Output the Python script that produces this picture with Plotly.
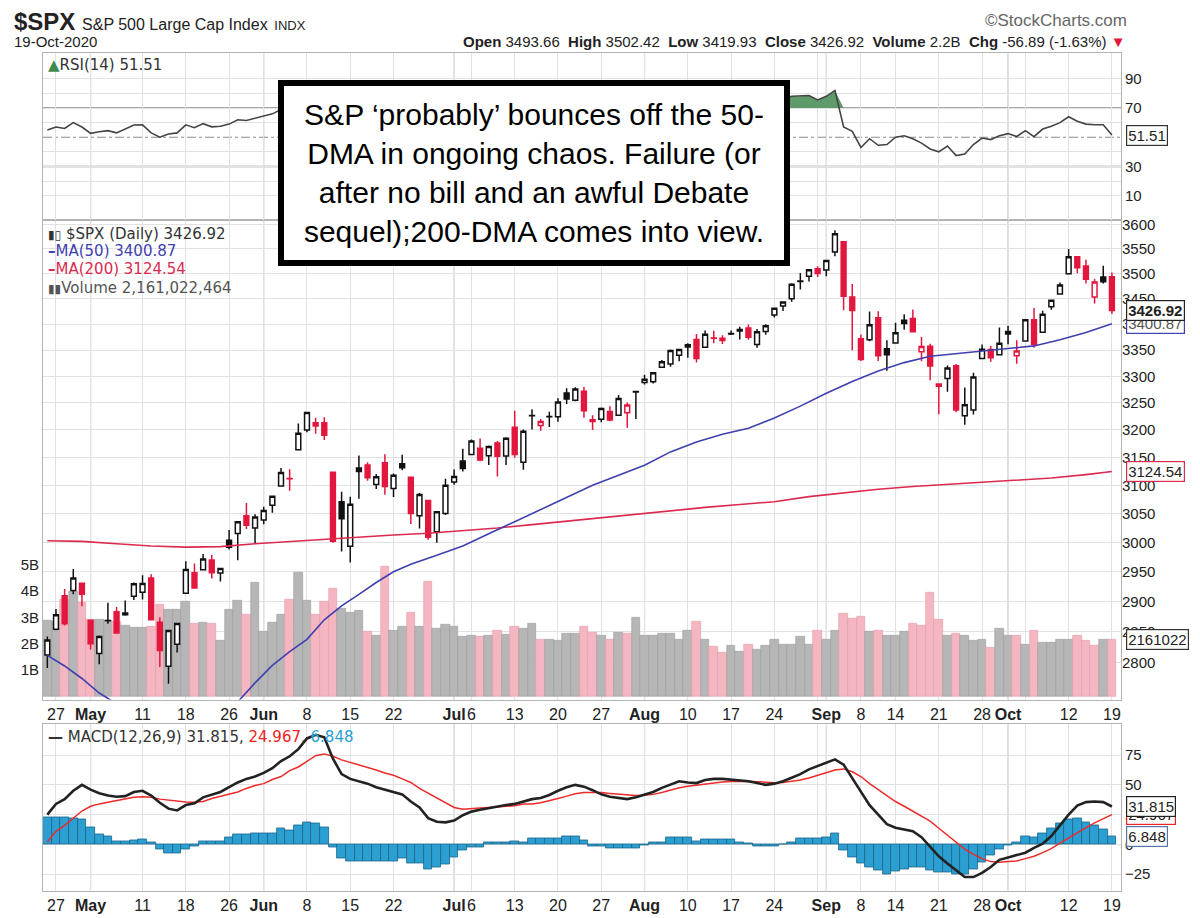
import math
import pandas as pd
import plotly.graph_objects as go

# trading days shown (Apr 24 - Oct 19 2020), market holidays removed
holidays = ["2020-05-25", "2020-07-03", "2020-09-07"]
dates = [d.strftime("%Y-%m-%d") for d in pd.bdate_range("2020-04-24", "2020-10-19")
         if d.strftime("%Y-%m-%d") not in holidays]

prev_close = 2797.80  # close of Apr 23, colours the first candle

opens = [2812.64, 2854.65, 2909.96, 2918.46, 2930.91, 2869.09,
         2815.01, 2868.88, 2883.14, 2878.26, 2908.83,
         2915.46, 2939.50, 2865.86, 2794.54, 2829.95,
         2913.86, 2948.59, 2953.63, 2969.95, 2948.05,
         3004.08, 3015.65, 3046.61, 3025.17,
         3038.78, 3064.78, 3098.90, 3111.56, 3163.84,
         3199.92, 3213.32, 3213.42, 3123.53, 3071.04,
         2993.76, 3131.00, 3136.13, 3101.64, 3140.29,
         3094.42, 3138.70, 3114.40, 3046.60, 3073.20,
         3018.59, 3050.20, 3105.92, 3143.64,
         3155.29, 3166.44, 3153.07, 3176.17, 3152.47,
         3205.08, 3141.11, 3225.98, 3208.36, 3224.21,
         3224.29, 3268.52, 3254.86, 3271.64, 3218.58,
         3219.84, 3234.27, 3227.22, 3231.76, 3270.45,
         3288.26, 3289.92, 3317.37, 3323.17, 3340.05,
         3356.04, 3370.34, 3355.46, 3372.95, 3368.66,
         3380.86, 3387.04, 3392.51, 3360.48, 3386.01,
         3418.09, 3435.95, 3449.97, 3485.14, 3494.69,
         3509.73, 3507.44, 3543.76, 3564.74, 3453.60,
         3371.88, 3369.82, 3412.56, 3352.70,
         3363.56, 3407.73, 3411.23, 3346.86, 3357.38,
         3285.57, 3295.75, 3320.11, 3226.14, 3236.66,
         3333.90, 3350.92, 3341.21, 3385.87, 3338.94,
         3367.27, 3408.74, 3384.56, 3434.28, 3459.67,
         3500.02, 3534.01, 3515.47, 3453.72, 3493.50,
         3493.66]
highs = [2842.71, 2887.72, 2921.15, 2954.86, 2930.91, 2869.09,
         2844.24, 2898.23, 2891.11, 2901.92, 2932.16,
         2944.25, 2945.82, 2874.14, 2852.80, 2865.01,
         2968.09, 2964.21, 2980.29, 2978.50, 2956.76,
         3021.72, 3036.25, 3068.67, 3049.17,
         3062.18, 3081.07, 3130.94, 3128.91, 3211.72,
         3233.13, 3222.71, 3223.27, 3123.53, 3088.42,
         3079.76, 3153.45, 3141.16, 3120.00, 3155.53,
         3120.92, 3154.90, 3115.01, 3086.25, 3073.73,
         3053.89, 3111.51, 3128.44, 3165.81,
         3182.59, 3184.15, 3171.80, 3179.78, 3186.82,
         3235.32, 3200.95, 3238.28, 3220.39, 3233.52,
         3258.61, 3277.29, 3279.32, 3279.99, 3227.26,
         3241.43, 3243.72, 3264.74, 3250.92, 3272.17,
         3302.73, 3306.84, 3330.77, 3351.03, 3352.54,
         3363.29, 3381.01, 3387.89, 3387.24, 3378.51,
         3387.59, 3395.06, 3399.54, 3390.80, 3399.96,
         3432.09, 3444.21, 3481.07, 3501.38, 3509.23,
         3514.77, 3528.03, 3588.11, 3564.85, 3479.15,
         3379.97, 3424.77, 3425.55, 3368.95,
         3402.93, 3419.48, 3428.92, 3375.17, 3362.27,
         3285.57, 3320.31, 3323.35, 3278.70, 3306.88,
         3360.74, 3357.92, 3393.56, 3397.18, 3369.10,
         3409.57, 3431.56, 3426.26, 3447.28, 3482.34,
         3549.85, 3534.01, 3527.94, 3489.08, 3515.76,
         3502.42]
lows = [2791.76, 2852.89, 2860.71, 2912.16, 2892.47, 2821.61,
        2797.85, 2863.55, 2847.65, 2876.48, 2902.88,
        2903.44, 2869.59, 2793.15, 2766.64, 2816.78,
        2913.86, 2922.35, 2953.63, 2938.57, 2933.59,
        2988.17, 2969.75, 3023.40, 2998.61,
        3031.54, 3051.64, 3098.90, 3090.41, 3163.84,
        3196.00, 3193.11, 3181.49, 2999.49, 2984.47,
        2965.66, 3076.06, 3108.03, 3093.51, 3083.11,
        3079.39, 3127.12, 3032.13, 3024.01, 3004.63,
        2999.74, 3047.83, 3101.17, 3124.52,
        3155.29, 3142.93, 3136.53, 3115.70, 3136.22,
        3149.43, 3127.66, 3200.76, 3198.59, 3205.65,
        3215.16, 3247.77, 3253.10, 3222.66, 3200.05,
        3214.25, 3216.17, 3227.22, 3204.13, 3220.26,
        3284.53, 3286.37, 3317.37, 3318.14, 3328.72,
        3335.44, 3326.44, 3355.46, 3363.35, 3361.64,
        3379.22, 3370.15, 3369.66, 3354.69, 3379.31,
        3413.13, 3425.84, 3444.15, 3468.35, 3484.32,
        3493.25, 3494.60, 3535.23, 3427.41, 3349.63,
        3329.27, 3366.84, 3329.25, 3310.47,
        3363.56, 3389.25, 3384.45, 3328.82, 3292.40,
        3229.10, 3270.95, 3232.57, 3209.45, 3228.44,
        3332.91, 3327.54, 3340.47, 3361.39, 3323.69,
        3367.27, 3354.54, 3384.56, 3428.15, 3458.07,
        3499.61, 3500.86, 3480.55, 3440.89, 3480.45,
        3419.93]
closes = [2836.74, 2878.48, 2863.39, 2939.51, 2912.43, 2830.71,
          2842.74, 2868.44, 2848.42, 2881.19, 2929.80,
          2930.19, 2870.12, 2820.00, 2852.50, 2863.70,
          2953.91, 2922.94, 2971.61, 2948.51, 2955.45,
          2991.77, 3036.13, 3029.73, 3044.31,
          3055.73, 3080.82, 3122.87, 3112.35, 3193.93,
          3232.39, 3207.18, 3190.14, 3002.10, 3041.31,
          3066.59, 3124.74, 3113.49, 3115.34, 3097.74,
          3117.86, 3131.29, 3050.33, 3083.76, 3009.05,
          3053.24, 3100.29, 3115.86, 3130.01,
          3179.72, 3145.32, 3169.94, 3152.05, 3185.04,
          3155.22, 3197.52, 3226.56, 3215.57, 3224.73,
          3251.84, 3257.30, 3276.02, 3235.66, 3215.63,
          3239.41, 3218.44, 3258.44, 3246.22, 3271.12,
          3294.61, 3306.51, 3327.77, 3349.16, 3351.28,
          3360.47, 3333.69, 3380.35, 3373.43, 3372.85,
          3381.99, 3389.78, 3374.85, 3385.51, 3397.16,
          3431.28, 3443.62, 3478.73, 3484.55, 3508.01,
          3500.31, 3526.65, 3580.84, 3455.06, 3426.96,
          3331.84, 3398.96, 3339.19, 3340.97,
          3383.54, 3401.20, 3385.49, 3357.01, 3319.47,
          3281.06, 3315.57, 3236.92, 3246.59, 3298.46,
          3351.60, 3335.47, 3363.00, 3380.80, 3348.42,
          3408.60, 3360.97, 3419.44, 3446.83, 3477.14,
          3534.22, 3511.93, 3488.67, 3483.34, 3483.81,
          3426.92]

# volume in billions
volume = [2.88, 2.85, 3.68, 3.97, 3.55, 2.90,
          2.90, 2.88, 2.85, 2.70, 2.60,
          2.60, 2.65, 3.50, 3.30, 3.30,
          3.59, 2.77, 2.80, 2.78, 2.11,
          3.28, 3.63, 3.12, 4.32,
          2.46, 2.80, 3.09, 3.68, 4.72,
          3.63, 3.12, 3.60, 4.09, 3.34,
          3.19, 3.24, 2.47, 2.32, 4.94,
          2.51, 2.66, 3.19, 2.66, 4.36,
          2.58, 2.71, 2.65, 2.27,
          2.31, 2.25, 2.31, 2.50, 2.36,
          2.65, 2.56, 2.77, 2.17, 2.17,
          2.11, 2.37, 2.37, 2.65, 2.40,
          2.31, 2.17, 2.43, 2.37, 2.99,
          2.31, 2.31, 2.37, 2.37, 2.17,
          2.50, 2.84, 2.17, 1.89, 1.64,
          1.92, 1.70, 1.98, 1.79, 1.92,
          2.17, 1.98, 1.98, 2.25, 1.98,
          2.50, 2.17, 2.50, 3.15, 2.96,
          3.03, 2.45, 2.50, 2.29,
          2.29, 2.45, 2.77, 2.70, 3.94,
          2.90, 2.31, 2.37, 2.29, 2.12,
          2.17, 1.84, 2.57, 2.31, 2.31,
          1.98, 2.50, 2.05, 2.05, 2.17,
          2.17, 2.31, 2.12, 1.92, 2.17,
          2.161]

rsi = [55, 57, 56, 60, 57, 52.7,
       53.8, 54.5, 53, 55.6, 58.4,
       58.5, 53, 50, 52.2, 53,
       58.5, 56.5, 59.3, 57.1, 57.5,
       59, 62, 61.5, 63,
       64, 66, 69, 68.5, 73,
       75, 72, 70, 52, 55,
       57, 60, 59, 59, 57,
       59, 60, 53, 56, 50,
       54, 58, 59, 60,
       63, 60, 61, 59, 62,
       58, 62, 64, 63, 63,
       66, 66, 68, 62, 60,
       62, 60, 64, 62, 65,
       67, 69, 71, 73, 73,
       74, 67, 71, 70, 70,
       71, 72, 68, 70, 72,
       75, 76, 78, 78, 78.5,
       75.5, 78, 82, 57, 54,
       43, 49, 44.5, 45,
       50, 51, 49, 46, 42,
       40, 44, 37.5, 38.5, 45,
       49.5, 48.4, 51, 52.5, 50.5,
       54.5, 50.4, 55.6, 57.5, 60,
       64, 61, 59, 58.5, 58.5,
       51.51]

macd = [25, 34, 38, 45, 50, 46, 43, 41, 40, 40.5,
        44, 45, 41, 35, 30, 28.5, 33, 34.5, 39.5, 42,
        44, 48, 52, 55, 57, 60, 64, 70, 74, 80,
        89, 92, 90, 72, 59, 55, 53, 51, 48, 46,
        44, 42, 36, 31, 22, 19, 18.5, 20, 24.5, 27.5,
        29, 30.5, 31.5, 33, 34, 36, 38, 39, 41.5, 45,
        48, 50, 48.5, 45.5, 42, 40, 39, 38, 39.5, 41.7,
        44, 47.5, 50, 53, 52, 51.5, 54, 55, 55, 54.5,
        54, 53, 51.5, 50, 51, 53, 56, 59, 63, 66,
        69, 71.4, 67, 56, 44, 33, 25, 17, 14, 12.5,
        11, 6, -2, -10, -16, -22, -27.5, -27.5, -24, -19,
        -13, -11, -9, -7, -3, 0.5, 7, 16, 25, 32.5,
        35.5, 36, 35.5, 31.815]
signal = [2, 11, 16, 22, 28, 32, 34, 35.3, 36.5, 38,
          39.5, 40, 39.5, 38, 37, 36, 35.5, 35.3, 36, 38.5,
          40.5, 42, 44, 47, 49.5, 51, 54.5, 57, 62, 65,
          70, 74.5, 76, 74, 71, 69, 67, 65, 62.5, 60,
          58, 55, 52, 47, 43, 38.5, 35, 31, 29.5, 29.7,
          30.5, 31, 31.5, 32, 32.5, 34, 34, 35, 36.5, 38.5,
          40.5, 42.5, 43.5, 43.8, 43.5, 42.8, 42, 41.2, 41, 41.2,
          42, 43.5, 45.5, 47.5, 48.8, 49.8, 50.8, 51.7, 52.4, 52.8,
          53, 53, 52.7, 52.2, 51.8, 52, 52.8, 54, 55.8, 58,
          60.2, 62.5, 63.4, 61, 57, 51, 46, 41, 36, 32,
          28, 24, 19.5, 13.5, 7.5, 1.5, -4, -8.5, -12, -14.5,
          -15, -14.5, -14, -12, -10, -7, -3.6, 1, 5.5, 10,
          14, 18, 21.5, 24.967]
hist = [23, 23, 22.5, 22, 21, 14.4, 8.3, 6.7, 2.8, 2.8,
        3, 4.2, 2, -4.4, -7.8, -7.8, -4.4, -1.7, 2.8, 2.8,
        2.8, 6.1, 8.3, 8.3, 9.4, 9.4, 9.4, 13, 11.7, 15.8,
        18.6, 17.2, 14.4, -2.2, -11.9, -13.9, -13.9, -13.9, -13.9, -13.9,
        -13.9, -12, -15.6, -15.6, -21, -19.4, -16.7, -10.6, -5, -2.2,
        -2.2, 1.4, 1.4, 1.4, 2.8, 1.4, 4.7, 4.7, 4.7, 4.7,
        6.9, 6.9, 3.3, -1.7, -1.7, -3.6, -3.6, -3.6, -3.6, -1,
        2, 2, 5.6, 5.6, 5.6, 2.8, 3.9, 3.9, 3.9, 3.9,
        2, 1.1, -1.7, -1.7, -1.7, 0.3, 2, 5.3, 5.3, 5.3,
        6, 9.4, -5, -11, -16, -19, -22, -25, -23, -21,
        -19, -19, -21.5, -23.5, -23.9, -25, -25, -21, -15, -9,
        -4, -1, 2, 6.7, 6.1, 8.9, 13, 17.8, 20.6, 21.4,
        18.6, 15.8, 12.2, 6.848]

# moving averages (index of trading day, value)
ma50_idx = [0, 2, 4, 6, 8, 10, 13, 16, 19, 22, 24, 26, 28, 30, 32, 34, 36, 38, 40, 42,
            45, 48, 51, 54, 57, 60, 63, 66, 69, 72, 75, 78, 81, 84, 87, 90, 93, 96, 99,
            102, 105, 108, 111, 114, 117, 120, 123]
ma50_val = [2812, 2795, 2775, 2752, 2735, 2718, 2703, 2698, 2710, 2738, 2768, 2796, 2818,
            2838, 2870, 2893, 2912, 2932, 2950, 2963, 2978, 2994, 3015, 3036, 3057, 3078,
            3100, 3118, 3136, 3160, 3178, 3192, 3203, 3222, 3244, 3268, 3290, 3310, 3326,
            3338, 3343, 3347, 3352, 3358, 3370, 3384, 3400.87]
ma200_idx = [0, 4, 8, 12, 16, 20, 24, 28, 32, 36, 40, 44, 48, 52, 56, 60, 64, 68, 72, 76,
             80, 84, 88, 92, 96, 100, 104, 108, 112, 116, 120, 123]
ma200_val = [3003, 3002, 2998, 2994, 2992, 2993, 2998, 3002, 3006, 3010, 3013, 3016, 3020,
             3025, 3031, 3037, 3044, 3050, 3056, 3061, 3066, 3071, 3080, 3087, 3093, 3098,
             3102, 3106, 3109, 3113, 3119, 3124.54]

tick_dates = ["2020-04-27", "2020-05-01", "2020-05-11", "2020-05-18", "2020-05-26",
              "2020-06-01", "2020-06-08", "2020-06-15", "2020-06-22", "2020-07-01",
              "2020-07-06", "2020-07-13", "2020-07-20", "2020-07-27", "2020-08-03",
              "2020-08-10", "2020-08-17", "2020-08-24", "2020-08-31", "2020-09-01",
              "2020-09-08", "2020-09-14", "2020-09-21", "2020-09-28", "2020-10-01",
              "2020-10-05", "2020-10-12", "2020-10-19"]
tick_labels = ["27", "<b>May</b>", "11", "18", "26", "<b>Jun</b>", "8", "15", "22",
               "<b>Jul</b>", "6", "13", "20", "27", "<b>Aug</b>", "10", "17", "24", "",
               "<b>Sep</b>", "8", "14", "21", "28", "<b>Oct</b>", "", "12", "19"]
month_starts = ["2020-05-01", "2020-06-01", "2020-07-01", "2020-08-03", "2020-09-01", "2020-10-01"]

price_ticks = list(range(2800, 3601, 50))

# colours
RED = "#e3173e"
BLACK = "#111111"
BLUE_MA = "#3f3fb0"
RED_MA = "#dc2a4e"
GRID = "#e2e2e2"

# layout pixel helpers (plot area: x 35..1113, y 45..890)
def px(x):
    return (x - 35) / 1078.0

def py(y):
    return (890 - y) / 845.0

n = len(dates)
prevs = [prev_close] + closes[:-1]
up_day = [c >= p for c, p in zip(closes, prevs)]

fig = go.Figure()

# volume (base axis of the price panel, drawn under the candles)
fig.add_trace(go.Bar(
    x=dates, y=volume, xaxis="x2", yaxis="y2", width=1.0,
    marker=dict(color=["#b6b6b6" if u else "#f4b6c1" for u in up_day],
                line=dict(color=["#9c9c9c" if u else "#e49aa8" for u in up_day], width=0.6)),
    hoverinfo="skip", showlegend=False))

# candles: black when close is up vs prior close, red when down; hollow when close > open
for flag, col in [(True, BLACK), (False, RED)]:
    sel = [i for i in range(n) if up_day[i] == flag]
    fig.add_trace(go.Candlestick(
        x=[dates[i] for i in sel], open=[opens[i] for i in sel], high=[highs[i] for i in sel],
        low=[lows[i] for i in sel], close=[closes[i] for i in sel],
        xaxis="x2", yaxis="y3", whiskerwidth=0,
        increasing=dict(line=dict(color=col, width=1.5), fillcolor="white"),
        decreasing=dict(line=dict(color=col, width=1.5), fillcolor=col),
        hoverinfo="skip", showlegend=False))

fig.add_trace(go.Scatter(x=[dates[i] for i in ma200_idx], y=ma200_val, xaxis="x2", yaxis="y3",
                         mode="lines", line=dict(color=RED_MA, width=1.6), hoverinfo="skip",
                         showlegend=False))
fig.add_trace(go.Scatter(x=[dates[i] for i in ma50_idx], y=ma50_val, xaxis="x2", yaxis="y3",
                         mode="lines", line=dict(color=BLUE_MA, width=1.6), hoverinfo="skip",
                         showlegend=False))

# RSI panel with overbought shading
fig.add_trace(go.Scatter(x=dates, y=[70] * n, xaxis="x3", yaxis="y4", mode="lines",
                         line=dict(width=0), hoverinfo="skip", showlegend=False))
fig.add_trace(go.Scatter(x=dates, y=[max(v, 70) for v in rsi], xaxis="x3", yaxis="y4",
                         mode="lines", line=dict(width=0), fill="tonexty",
                         fillcolor="#5f9a6b", hoverinfo="skip", showlegend=False))
fig.add_trace(go.Scatter(x=dates, y=rsi, xaxis="x3", yaxis="y4", mode="lines",
                         line=dict(color="#444444", width=1.6), hoverinfo="skip",
                         showlegend=False))

# MACD panel
fig.add_trace(go.Bar(x=dates, y=hist, xaxis="x", yaxis="y", width=1.0,
                     marker=dict(color="#2b9fd2", line=dict(color="#1c6489", width=0.8)),
                     hoverinfo="skip", showlegend=False))
fig.add_trace(go.Scatter(x=dates, y=signal, xaxis="x", yaxis="y", mode="lines",
                         line=dict(color="#ee2a2a", width=1.5), hoverinfo="skip",
                         showlegend=False))
fig.add_trace(go.Scatter(x=dates, y=macd, xaxis="x", yaxis="y", mode="lines",
                         line=dict(color="#222222", width=2.6), hoverinfo="skip",
                         showlegend=False))

date_font = dict(family="Liberation Sans, Arial", size=16, color="#222")
xcommon = dict(type="category", categoryorder="array", categoryarray=dates,
               range=[-0.5, n + 0.05], showgrid=True, gridcolor=GRID, gridwidth=1,
               tickvals=tick_dates, ticktext=tick_labels, ticks="", tickfont=date_font,
               tickangle=0, showline=True, linecolor="#b4b4b4", mirror=True, zeroline=False,
               fixedrange=True)
axis_font = dict(family="Liberation Sans, Arial", size=15, color="#222")

fig.update_layout(
    width=1200, height=918,
    margin=dict(l=35, r=87, t=45, b=28),
    paper_bgcolor="white", plot_bgcolor="white",
    showlegend=False, bargap=0, boxgap=0.2,
    xaxis=dict(xcommon, domain=[0, 1], anchor="y"),
    xaxis2=dict(xcommon, domain=[0, 1], anchor="y2", rangeslider=dict(visible=False)),
    xaxis3=dict(xcommon, domain=[0, 1], anchor="y4", showticklabels=False),
    yaxis=dict(domain=[0, py(722)], range=[-39.2, 100.8], side="right",
               tickvals=[-25, 0, 25, 50, 75], showgrid=True, gridcolor=GRID,
               zeroline=False, tickfont=axis_font, ticks="", showline=True,
               linecolor="#b4b4b4", mirror=True),
    yaxis2=dict(domain=[py(697), py(213)], range=[-0.13, 18.13], side="left",
                tickvals=[1, 2, 3, 4, 5], ticktext=["1B", "2B", "3B", "4B", "5B"],
                showgrid=False, zeroline=False, tickfont=axis_font, ticks="",
                showline=True, linecolor="#b4b4b4", mirror=True),
    yaxis3=dict(overlaying="y2", side="right", type="log",
                range=[math.log10(2741.6), math.log10(3610.2)],
                tickvals=price_ticks, ticktext=[str(v) for v in price_ticks],
                showgrid=True, gridcolor=GRID, zeroline=False, tickfont=axis_font, ticks=""),
    yaxis4=dict(domain=[py(213), 1.0], range=[-6.3, 107.6], side="right",
                tickvals=[10, 20, 30, 40, 60, 70, 80, 90],
                ticktext=["10", "", "30", "", "", "70", "", "90"],
                showgrid=True, gridcolor=GRID, zeroline=False, tickfont=axis_font,
                ticks="", showline=True, linecolor="#b4b4b4", mirror=True),
)

shapes = []
# darker month separators in each panel
for d in month_starts:
    for xr, yr in [("x", "y domain"), ("x2", "y2 domain"), ("x3", "y4 domain")]:
        shapes.append(dict(type="line", xref=xr, yref=yr, x0=d, x1=d, y0=0, y1=1,
                           line=dict(color="#c4c4c4", width=1.2), layer="below"))
# RSI reference levels
for lvl in [70, 30]:
    shapes.append(dict(type="line", xref="x3 domain", yref="y4", x0=0, x1=1, y0=lvl, y1=lvl,
                       line=dict(color="#8a8a8a", width=1.6), layer="below"))
shapes.append(dict(type="line", xref="x3 domain", yref="y4", x0=0, x1=1, y0=50, y1=50,
                   line=dict(color="#8a8a8a", width=1.2, dash="dashdot"), layer="below"))
fig.update_layout(shapes=shapes)

ann = []
sans = "Liberation Sans, Arial"
legend_font = "DejaVu Sans, Verdana"

# header
chg = closes[-1] - closes[-2]
ann.append(dict(x=px(4), y=py(13), xref="paper", yref="paper", xanchor="left", yanchor="middle",
                showarrow=False,
                text="<b>$SPX</b> <span style='font-size:16px'>S&P 500 Large Cap Index</span>"
                     " <span style='font-size:13px'>INDX</span>",
                font=dict(family=sans, size=24, color="#222")))
ann.append(dict(x=px(4), y=py(33), xref="paper", yref="paper", xanchor="left", yanchor="middle",
                showarrow=False, text="19-Oct-2020", font=dict(family=sans, size=15, color="#222")))
ann.append(dict(x=px(1120), y=py(33), xref="paper", yref="paper", xanchor="right",
                yanchor="middle", showarrow=False,
                text=("<b>Open</b> %.2f  <b>High</b> %.2f  <b>Low</b> %.2f  <b>Close</b> %.2f  "
                      "<b>Volume</b> %.1fB  <b>Chg</b> %.2f (%.2f%%) <span style='color:%s'>▼</span>")
                     % (opens[-1], highs[-1], lows[-1], closes[-1], volume[-1], chg,
                        chg / closes[-2] * 100, RED),
                font=dict(family=sans, size=15, color="#222")))
ann.append(dict(x=px(1121), y=py(12), xref="paper", yref="paper", xanchor="right",
                yanchor="middle", showarrow=False, text="©StockCharts.com",
                font=dict(family=sans, size=17, color="#666")))

# panel legends
ann.append(dict(x=px(38), y=py(57), xref="paper", yref="paper", xanchor="left", yanchor="middle",
                showarrow=False,
                text="<span style='color:#3f8a4f'>▲</span>RSI(14) %.2f" % rsi[-1],
                font=dict(family=legend_font, size=15, color="#333")))
ann.append(dict(x=px(38), y=py(228), xref="paper", yref="paper", xanchor="left",
                yanchor="middle", showarrow=False,
                text="<span style='font-size:12px'>▮▯</span> $SPX (Daily) %.2f" % closes[-1],
                font=dict(family=legend_font, size=15, color="#333")))
ann.append(dict(x=px(38), y=py(245), xref="paper", yref="paper", xanchor="left",
                yanchor="middle", showarrow=False, text="<b>–</b>MA(50) %.2f" % ma50_val[-1],
                font=dict(family=legend_font, size=15, color=BLUE_MA)))
ann.append(dict(x=px(38), y=py(263), xref="paper", yref="paper", xanchor="left",
                yanchor="middle", showarrow=False, text="<b>–</b>MA(200) %.2f" % ma200_val[-1],
                font=dict(family=legend_font, size=15, color=RED_MA)))
ann.append(dict(x=px(38), y=py(282), xref="paper", yref="paper", xanchor="left",
                yanchor="middle", showarrow=False,
                text="<span style='font-size:12px'>▮▮</span>Volume 2,161,022,464",
                font=dict(family=legend_font, size=15, color="#555")))
ann.append(dict(x=px(38), y=py(735), xref="paper", yref="paper", xanchor="left",
                yanchor="middle", showarrow=False,
                text="<b>—</b> MACD(12,26,9) %.3f, <span style='color:#e22'>%.3f</span>, "
                     "<span style='color:#2a9fd2'>%.3f</span>" % (macd[-1], signal[-1], hist[-1]),
                font=dict(family=legend_font, size=15, color="#333")))

# last-value tags on the right axes
def tag(yref, yval, text, border, bold=False, color="#222"):
    return dict(x=px(1118), y=yval, xref="paper", yref=yref, xanchor="left", yanchor="middle",
                showarrow=False, text="<b>%s</b>" % text if bold else text,
                font=dict(family=sans, size=15, color=color), bgcolor="white",
                bordercolor=border, borderwidth=1.2, borderpad=1)

ann.append(tag("y4", rsi[-1], "%.2f" % rsi[-1], "#333"))
ann.append(tag("y3", math.log10(ma50_val[-1]), "%.2f" % ma50_val[-1], BLUE_MA, color="#555"))
ann.append(tag("y3", math.log10(closes[-1]), "%.2f" % closes[-1], "#222", bold=True))
ann.append(tag("y3", math.log10(ma200_val[-1]), "%.2f" % ma200_val[-1], RED_MA))
ann.append(tag("y2", volume[-1], "2161022", "#333"))
ann.append(tag("y", signal[-1], "%.3f" % signal[-1], "#e22"))
ann.append(tag("y", macd[-1], "%.3f" % macd[-1], "#222"))
ann.append(tag("y", hist[-1], "%.3f" % hist[-1], "#5577aa"))

# commentary box
ann.append(dict(x=px(270), y=py(72), xref="paper", yref="paper", xanchor="left", yanchor="top",
                showarrow=False, align="center", width=500, height=174, valign="middle",
                text="S&P ‘probably’ bounces off the 50-<br>DMA in ongoing chaos. Failure (or<br>"
                     "after no bill and an awful Debate<br>sequel);200-DMA comes into view.",
                font=dict(family=sans, size=30, color="black"),
                bgcolor="white", bordercolor="black", borderwidth=6, borderpad=0))

fig.update_layout(annotations=ann)

fig.write_html("out.html")
